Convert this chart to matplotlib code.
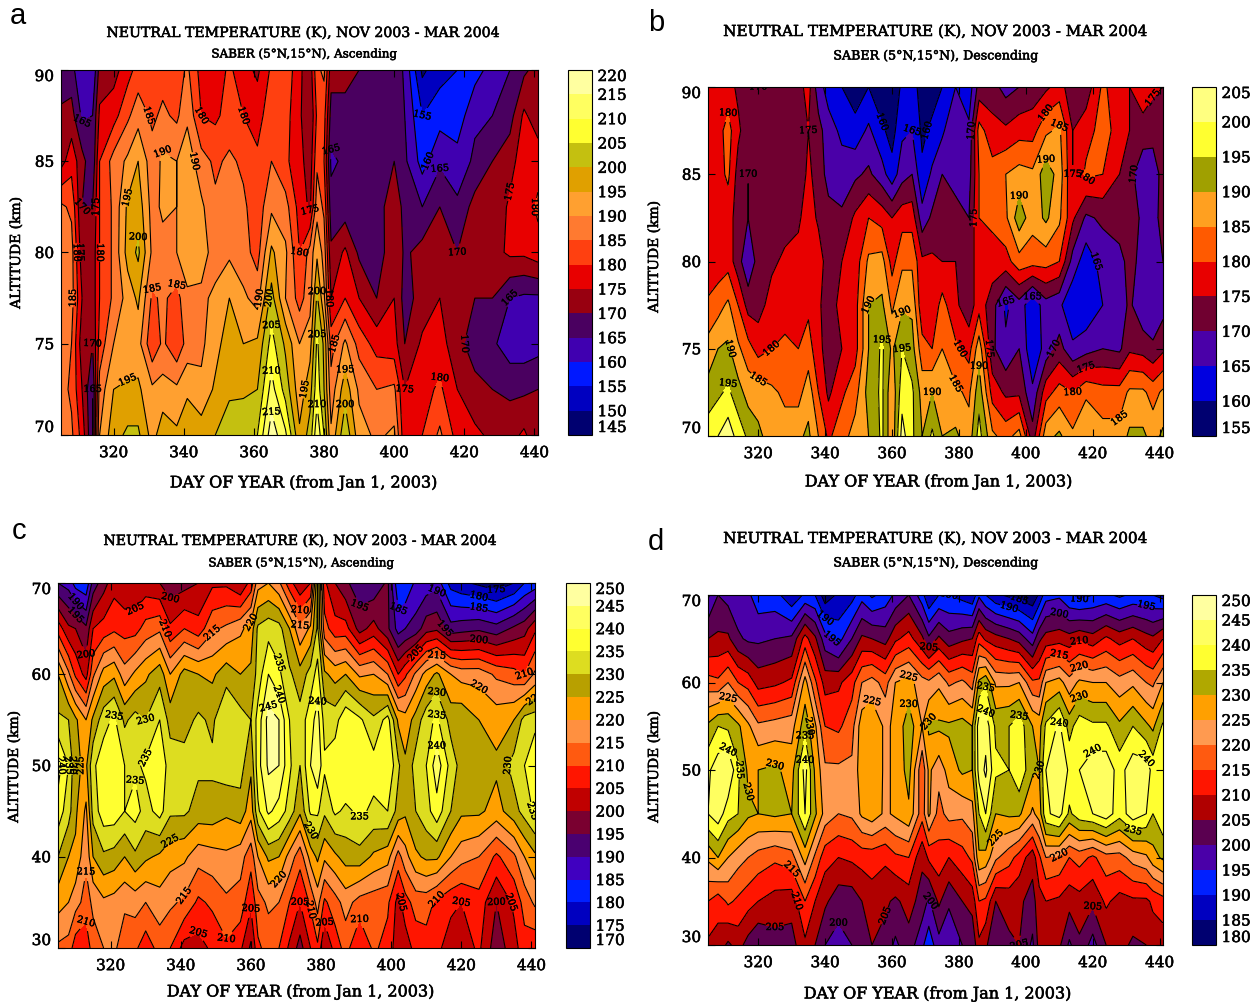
import matplotlib
matplotlib.use("Agg")
import numpy as np
from matplotlib import pyplot as plt
from matplotlib import patheffects
from matplotlib.colors import ListedColormap, BoundaryNorm

W = 1258
H = 1003

alts_high = [70, 72.5, 75, 77.5, 80, 82.5, 85, 87.5, 90]
alts_low = [30, 35, 40, 45, 50, 55, 60, 65, 70]

days_a = [305,308,311,314,316,320,324,327,331,334,338,341,345,349,353,357,361,365,369,373,376,378,380,382,386,390,395,400,403,408,413,418,423,428,433,437,441]
temp_a = [
    [187,186,178,165,190,198,201,201,193,198,196,199,198,200,203,204,205,218,211,196,202,214,205,191,204,192,189,191,176,180,186,178,176,174,173,176,171],
    [187,184,175,165,187,195,196,196,191,192,191,194,191,196,199,199,200,212,203,192,198,208,200,187,198,189,185,186,175,178,181,175,172,170,169,169,170],
    [187,185,172,170,182,190,191,192,181,186,181,187,189,193,198,195,196,207,199,190,193,206,199,183,191,183,178,177,170,176,177,172,167,166,162,162,163],
    [188,187,175,172,180,186,192,196,184,186,183,189,189,191,195,191,188,202,190,183,188,201,191,175,180,175,170,175,168,172,175,171,170,170,165,164,164],
    [188,187,172,172,180,186,197,201,189,188,190,193,192,188,189,187,183,196,191,180,187,194,188,171,176,169,166,175,169,172,174,170,172,173,176,176,178],
    [186,184,170,170,180,186,196,198,188,191,190,194,191,186,189,186,182,189,187,178,174,188,184,167,167,167,167,174,168,165,170,166,172,171,176,177,181],
    [173,178,172,166,180,187,191,195,187,191,190,193,187,184,186,184,181,185,181,177,172,184,180,164,166,170,167,170,166,158,164,162,166,170,173,178,178],
    [171,172,164,165,176,178,184,188,184,186,184,189,180,179,182,180,178,183,182,176,170,181,182,168,168,168,167,169,165,155,158,157,164,165,168,176,172],
    [167,167,160,160,172,173,178,182,180,183,182,186,178,177,181,177,174,181,184,176,172,184,186,172,172,170,167,169,164,149,153,155,158,162,165,169,172],
]

days_b = [305,308,311,314,317,320,324,328,332,335,338,341,345,349,353,357,360,363,366,369,372,375,379,383,386,390,394,398,402,406,410,414,418,423,428,431,435,438,441]
temp_b = [
    [198,200,203,198,194,191,188,187,189,191,185,179,183,187,190,196,186,202,196,190,196,190,191,187,197,186,183,187,172,188,191,186,190,187,187,191,191,188,191],
    [192,194,196,192,188,188,186,184,183,188,180,174,179,183,192,196,186,198,196,188,190,186,186,184,193,178,174,174,166,178,182,180,184,182,182,186,186,183,186],
    [187,190,191,186,182,178,180,181,180,182,177,172,175,178,190,196,189,195,192,182,180,185,181,178,188,171,166,170,161,167,172,166,168,170,169,174,173,171,174],
    [181,183,186,180,173,173,177,178,178,179,176,172,177,178,190,191,184,189,189,176,176,182,176,172,178,172,164,168,161,168,166,161,161,165,167,171,166,166,168],
    [176,177,178,172,166,172,174,176,177,178,178,172,175,177,186,187,178,184,184,176,176,175,175,172,178,178,178,183,182,182,180,168,162,167,168,172,168,165,170],
    [176,177,177,173,170,171,172,173,174,178,174,172,171,176,180,178,175,178,178,167,171,172,172,170,180,181,184,193,187,191,186,176,169,171,173,175,168,168,172],
    [176,178,181,173,170,172,171,171,172,176,173,168,167,169,171,167,162,168,170,161,166,170,168,168,180,182,185,187,186,193,188,175,181,180,175,172,166,167,172],
    [176,178,182,176,172,171,171,171,172,175,172,167,164,162,166,161,158,164,165,159,161,164,170,166,182,177,176,178,178,184,186,175,178,182,178,175,173,172,175],
    [176,176,177,174,170,170,170,170,173,177,167,163,160,157,160,156,156,161,163,157,158,160,165,162,172,172,168,170,172,174,177,172,172,181,177,175,178,176,175],
]

days_c = [305,308,310,313,315,318,321,324,327,330,334,337,341,345,349,353,357,360,362,365,368,371,374,377,379,381,384,387,391,395,399,402,404,407,410,413,417,420,425,430,435,438,441]
temp_c = [
    [214,213,207,206,213,215,216,212,211,207,212,210,203,203,206,209,206,199,209,212,210,204,198,205,209,200,207,212,205,211,208,202,202,207,208,206,203,202,206,197,203,208,206],
    [222,220,217,213,216,219,218,216,217,215,218,216,214,209,211,214,213,206,213,216,215,210,205,211,217,209,213,217,213,212,211,203,208,212,212,209,206,205,208,200,206,212,216],
    [230,225,224,216,225,229,228,225,229,226,224,222,221,217,218,219,217,212,220,226,225,218,212,222,226,221,224,227,228,224,222,213,218,224,226,226,220,217,215,209,214,220,224],
    [238,232,226,219,232,238,238,235,237,233,237,231,231,228,228,226,228,222,234,241,238,233,226,236,236,231,236,234,236,234,235,228,226,230,233,238,230,226,226,223,228,232,236],
    [242,235,226,224,234,238,240,235,234,236,238,233,232,231,231,233,232,226,238,246,245,236,230,240,244,236,238,240,238,237,240,231,226,232,235,243,233,228,228,226,232,235,240],
    [231,230,226,220,226,233,236,229,232,230,235,228,228,231,229,235,232,230,237,247,245,235,232,238,242,233,233,239,236,231,237,224,222,227,233,236,228,229,225,223,225,232,233],
    [225,216,209,203,214,222,224,217,221,224,228,220,227,225,224,228,225,226,232,240,236,231,227,232,237,226,223,225,219,220,215,205,209,216,222,226,220,218,218,214,212,210,216],
    [208,201,200,196,205,207,209,208,208,212,214,206,210,207,214,216,219,222,231,233,232,225,216,221,231,212,207,207,198,202,196,188,190,192,198,199,192,193,194,192,196,198,204],
    [190,188,183,181,192,198,203,201,201,202,200,197,198,200,204,204,200,207,218,220,216,207,201,205,230,206,200,196,192,191,196,181,181,186,187,188,178,176,174,172,175,180,182],
]

days_d = [305,308,311,314,317,320,325,330,334,337,340,344,348,351,354,358,361,365,369,371,374,377,381,384,386,388,391,395,398,402,404,406,410,413,416,420,424,428,432,436,438,441]
temp_d = [
    [209,208,204,207,203,200,203,203,209,205,200,198,200,203,205,203,199,203,196,192,198,195,200,201,209,206,200,204,205,199,207,209,206,199,204,198,205,207,204,205,207,207],
    [215,212,216,214,212,210,208,207,215,210,206,202,202,205,208,206,204,207,203,199,206,201,205,207,215,214,205,207,206,203,208,210,209,207,208,206,211,208,209,209,211,213],
    [226,230,225,222,220,218,216,218,227,219,212,210,211,212,212,211,214,215,206,211,213,210,213,216,229,228,221,217,213,207,214,220,219,215,217,214,218,218,222,224,228,231],
    [240,243,237,235,231,230,231,230,240,231,223,220,221,226,228,224,226,229,217,226,218,222,221,223,235,240,230,231,231,224,227,239,242,234,238,240,243,237,243,240,235,239],
    [239,243,245,236,229,230,231,228,242,229,221,221,221,228,229,224,226,232,216,226,222,227,231,230,242,246,236,235,239,231,230,240,245,239,240,243,243,238,243,243,238,240],
    [231,235,234,231,226,221,222,223,233,226,215,214,218,228,229,224,226,233,225,231,231,231,232,230,243,243,234,235,238,230,228,236,241,233,238,236,236,231,235,231,229,236],
    [217,216,220,215,213,208,209,211,227,216,208,209,213,220,222,218,225,227,222,221,224,219,221,218,231,234,224,224,225,216,216,225,227,222,226,225,225,222,224,220,219,225],
    [205,206,206,201,199,199,200,201,212,206,197,193,200,206,205,203,209,212,206,201,206,202,204,205,213,209,207,205,203,197,204,207,208,207,209,207,211,208,210,207,206,210],
    [194,200,198,196,196,192,192,186,191,190,182,186,188,193,189,192,196,200,192,185,190,190,188,186,194,190,186,184,183,181,186,193,194,190,188,190,191,189,191,191,190,188],
]

levels_a = list(range(145, 225, 5))
levels_b = list(range(155, 210, 5))
levels_c = list(range(170, 255, 5))
levels_d = list(range(180, 255, 5))

colors_a = ['#000070','#0000c0','#0018ff','#4000b0','#4a0060','#980010','#e80000','#ff4010','#ff7a30','#ffa030','#e0a000','#c4c010','#ffff30','#ffff60','#ffffa0']
colors_b = ['#000070','#0000e0','#4a00a8','#700030','#e80000','#ff5a00','#ffa020','#a0a000','#ffff30','#ffff80']
colors_c = ['#000070','#0000c0','#0020ff','#4000c0','#4a0070','#7a0030','#c00000','#ff1500','#ff5a10','#ff9040','#ffa000','#b8a000','#dddd20','#ffff30','#ffff60','#ffffa0']
colors_d = ['#000070','#0000c0','#0020ff','#4a00a8','#5a0050','#b00000','#ff1500','#ff5a10','#ff9a50','#ffa000','#b0a800','#ffff30','#ffff60','#ffffa0']

title = 'NEUTRAL TEMPERATURE (K), NOV 2003 - MAR 2004'
xlabel = 'DAY OF YEAR (from Jan 1, 2003)'
ylabel = 'ALTITUDE (km)'
subtitle_asc = 'SABER (5°N,15°N), Ascending'
subtitle_des = 'SABER (5°N,15°N), Descending'
xticks = [320, 340, 360, 380, 400, 420, 440]

SERIF = 'DejaVu Serif'
HEAVY = [patheffects.withStroke(linewidth=0.4, foreground='k')]


def px_box(left, top, right, bottom):
    return [left/W, 1-bottom/H, (right-left)/W, (bottom-top)/H]


def put(fig, x, y, s, heavy=True, **kw):
    kw.setdefault('family', SERIF)
    t = fig.text(x/W, 1-y/H, s, ha='center', va='center', **kw)
    if heavy:
        t.set_path_effects(HEAVY)


def panel(fig, days, alts, temp, levels, colors, box, cbox, yticks):
    ax = fig.add_axes(px_box(*box))
    cmap = ListedColormap(colors)
    norm = BoundaryNorm(levels, cmap.N)
    z = np.array(temp)
    cs = ax.contourf(days, alts, z, levels=levels, cmap=cmap, norm=norm)
    lines = ax.contour(days, alts, z, levels=levels, colors='k', linewidths=0.8)
    labels = ax.clabel(lines, fmt='%d', fontsize=7, inline=True, inline_spacing=0)
    for t in labels:
        t.set_family(SERIF)
        t.set_path_effects([patheffects.withStroke(linewidth=0.3, foreground='k')])
    ax.set_xlim(305, 441)
    ax.set_ylim(alts[0], alts[-1])
    ax.set_xticks(xticks)
    ax.set_yticks(yticks)
    ax.tick_params(direction='in', top=True, right=True, length=5, width=0.8, pad=8, labelsize=11)
    ax.tick_params(axis='y', pad=5)
    for t in ax.get_xticklabels() + ax.get_yticklabels():
        t.set_family(SERIF)
        t.set_path_effects(HEAVY)
    ylabs = ax.get_yticklabels()
    ylabs[0].set_va('bottom')
    ylabs[-1].set_va('top')

    cax = fig.add_axes(px_box(*cbox))
    cb = fig.colorbar(cs, cax=cax, ticks=levels, spacing='uniform', drawedges=False)
    cb.set_ticklabels([str(v) for v in levels])
    cax.tick_params(length=0, pad=4, labelsize=11)
    for t in cax.get_yticklabels():
        t.set_family(SERIF)
        t.set_path_effects(HEAVY)
    clabs = cax.get_yticklabels()
    clabs[0].set_va('bottom')
    clabs[-1].set_va('top')
    return ax


def main():
    fig = plt.figure(figsize=(W/100, H/100), dpi=100)

    panel(fig, days_a, alts_high, temp_a, levels_a, colors_a, (61, 71, 538, 436), (568, 71, 592, 436), [70, 75, 80, 85, 90])
    panel(fig, days_b, alts_high, temp_b, levels_b, colors_b, (708, 88, 1163, 437), (1192, 88, 1216, 437), [70, 75, 80, 85, 90])
    panel(fig, days_c, alts_low, temp_c, levels_c, colors_c, (58, 584, 535, 949), (566, 584, 590, 949), [30, 40, 50, 60, 70])
    panel(fig, days_d, alts_low, temp_d, levels_d, colors_d, (708, 596, 1163, 946), (1192, 596, 1216, 946), [30, 40, 50, 60, 70])

    put(fig, 304, 34, title, fontsize=10.15)
    put(fig, 304, 55, subtitle_asc, fontsize=8.6)
    put(fig, 304, 484, xlabel, fontsize=11.5)
    put(fig, 16, 254, ylabel, fontsize=10, rotation=90)

    put(fig, 936, 33, title, fontsize=10.95)
    put(fig, 936, 57, subtitle_des, fontsize=9.1)
    put(fig, 939, 483, xlabel, fontsize=11.5)
    put(fig, 654, 258, ylabel, fontsize=10, rotation=90)

    put(fig, 301, 542, title, fontsize=10.15)
    put(fig, 301, 564, subtitle_asc, fontsize=8.6)
    put(fig, 301, 993, xlabel, fontsize=11.5)
    put(fig, 14, 768, ylabel, fontsize=10, rotation=90)

    put(fig, 936, 540, title, fontsize=10.95)
    put(fig, 936, 564, subtitle_des, fontsize=9.1)
    put(fig, 938, 995, xlabel, fontsize=11.5)
    put(fig, 654, 768, ylabel, fontsize=10, rotation=90)

    for x, y, s in [(18, 16, 'a'), (656, 23, 'b'), (19, 531, 'c'), (656, 542, 'd')]:
        put(fig, x, y, s, heavy=False, fontsize=21, family='Liberation Sans')

    fig.savefig('out.png', dpi=100)


main()
